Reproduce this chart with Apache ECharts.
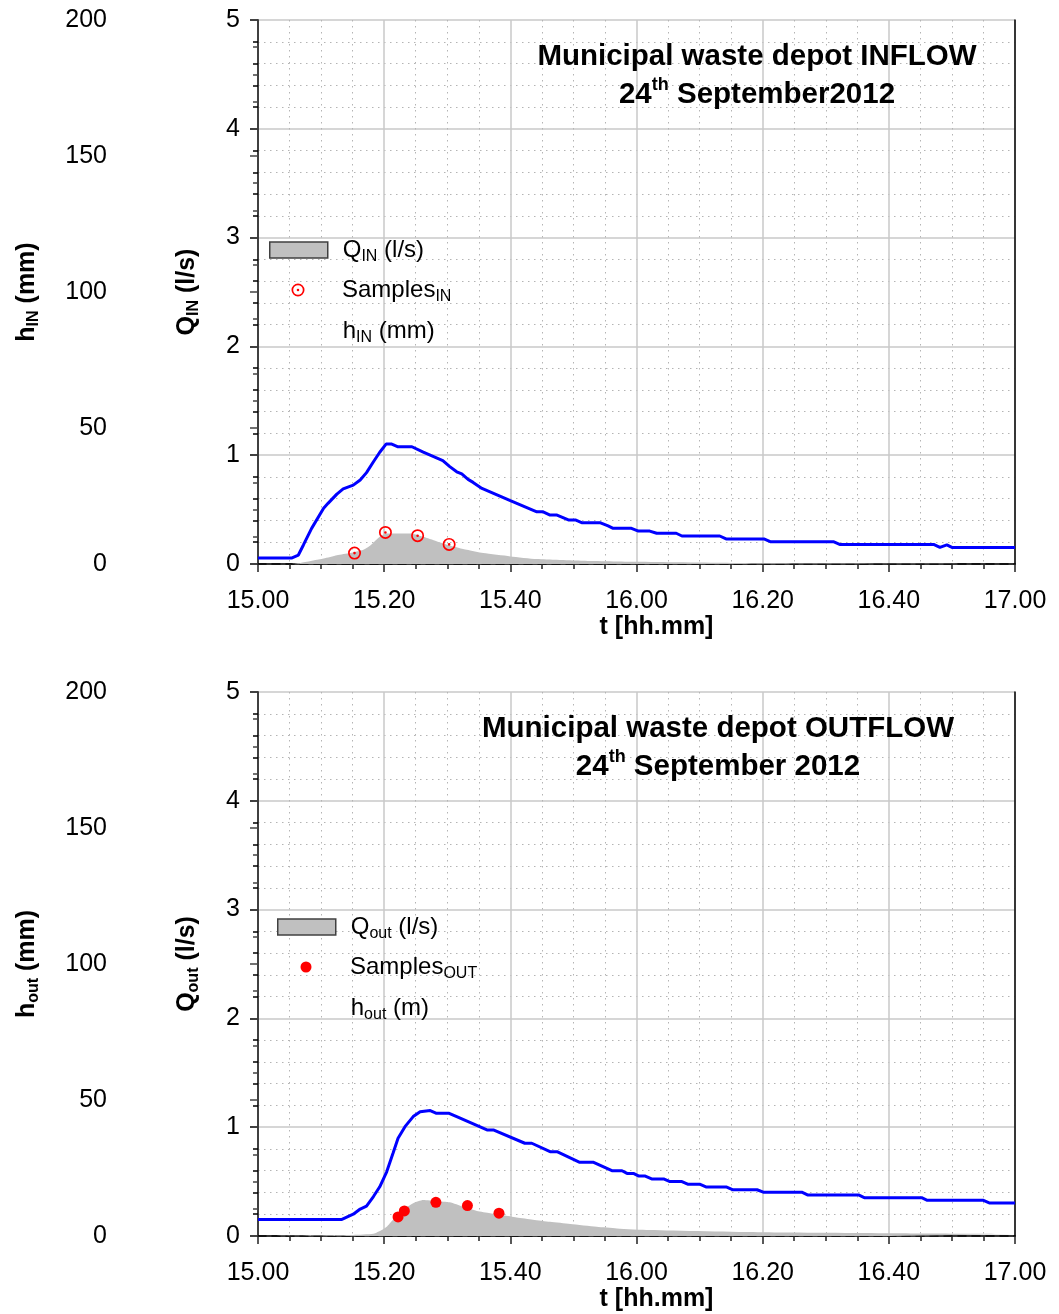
<!DOCTYPE html>
<html><head><meta charset="utf-8">
<script src="https://cdn.jsdelivr.net/npm/echarts@6/dist/echarts.min.js"></script>
<style>html,body{margin:0;padding:0;background:#fff}#c{width:1059px;height:1314px}</style>
</head><body><div id="c"></div>
<script>
// x values: minutes after 15:00
const xTickLabels = ['15.00','15.20','15.40','16.00','16.20','16.40','17.00'];

// INFLOW panel
const hInT = [0,5.3,6.4,7.2,8.5,10.4,11.1,12.5,13.5,15.1,16.2,17.2,18.3,19.3,20.3,21.2,22.2,24.4,26.2,29.3,30.4,31.5,32.3,33.3,34.1,35.5,40.0,44.2,45.2,46.3,47.4,49.2,50.3,51.3,54.2,55.5,56.3,59.2,60.3,62.1,63.2,66.3,67.2,73.2,74.2,80.2,81.2,91.2,92.2,107.1,108.1,109.2,110.0,120];
const hInV = [2.2,2.2,3.3,7.0,13.1,20.5,22.3,25.7,27.6,29.0,30.9,33.6,37.6,41.1,44.1,44.1,43.1,43.1,41.1,38.0,35.8,33.9,33.1,31.1,30.0,27.8,23.3,19.2,19.2,18.0,18.0,16.2,16.2,15.2,15.2,14.0,13.1,13.1,12.1,12.1,11.3,11.3,10.3,10.3,9.2,9.2,8.2,8.2,7.2,7.2,6.1,7.0,6.1,6.1];
const qInT = [0,5,6.7,10.4,12.5,14.6,16.7,17.8,19.3,20.4,22.0,24.1,26.2,28.3,30.4,33.1,35.7,40,44.2,51.5,60,75,90,120];
const qInV = [0,0,0.01,0.05,0.08,0.10,0.13,0.17,0.25,0.28,0.28,0.28,0.25,0.21,0.17,0.13,0.10,0.07,0.046,0.03,0.02,0.01,0.005,0];
const sInT = [15.3,20.2,25.3,30.3];
const sInV = [0.10,0.29,0.26,0.18];

// OUTFLOW panel
const hOutT = [0,13.3,15.1,16.2,17.2,18.3,19.3,20.4,21.4,22.2,23.3,24.6,25.7,27.3,28.3,30.3,31.5,36.3,37.3,42.3,43.4,46.3,47.4,51.0,53.2,56.1,57.7,58.5,59.5,60.3,61.3,62.4,64.3,65.3,67.2,68.2,70.1,71.1,74.3,75.3,79.1,80.1,86.2,87.1,95.2,96.1,105.2,106.1,115.0,116.0,120];
const hOutV = [6.1,6.1,8.0,9.9,11.0,14.5,18.1,23.6,30.4,35.9,40.2,43.9,45.7,46.1,45.1,45.1,43.9,39.0,39.0,34.1,34.1,31.0,31.0,27.1,27.1,24.0,24.0,23.0,23.0,22.1,22.1,21.0,21.0,20.0,20.0,19.0,19.0,18.0,18.0,17.0,17.0,16.1,16.1,15.1,15.1,14.1,14.1,13.1,13.1,12.1,12.1];
const qOutT = [0,15.1,18.3,19.6,20.4,21.4,23.0,24.6,26.2,28.3,30.4,32.5,34.7,36.8,38.9,41.0,43.6,46.3,49.5,53.7,56.9,62.1,80.1,100.2,120];
const qOutV = [0,0.01,0.02,0.055,0.085,0.15,0.24,0.30,0.33,0.32,0.31,0.27,0.23,0.21,0.19,0.17,0.15,0.13,0.11,0.085,0.07,0.055,0.034,0.025,0.018];
const sOutT = [22.2,23.2,28.2,33.2,38.2];
const sOutV = [0.175,0.23,0.31,0.28,0.21];

const FONT = '"Liberation Sans", Arial, sans-serif';
const zip = (a, b) => a.map((v, i) => [v, b[i]]);
const RING = 'path://M10,0A10,10,0,1,1,10,20A10,10,0,1,1,10,0ZM10,2.6A7.4,7.4,0,1,0,10,17.4A7.4,7.4,0,1,0,10,2.6ZM10,8A2,2,0,1,1,10,12A2,2,0,1,1,10,8Z';

const legendNames = {
  'Q_IN': '{a|Q}{s|IN}{n| (l/s)}',
  'Samples_IN': '{a|Samples}{s|IN}',
  'h_IN': '{a|h}{s|IN}{n| (mm)}',
  'Q_out': '{a|Q}{s|out}{n| (l/s)}',
  'Samples_OUT': '{a|Samples}{s|OUT}',
  'h_out': '{a|h}{s|out}{n| (m)}'
};
const legRich = {
  a: {fontSize: 24, fontFamily: FONT, color: '#000', lineHeight: 30, padding: [0, 0, 0, 10]},
  n: {fontSize: 24, fontFamily: FONT, color: '#000', lineHeight: 30},
  s: {fontSize: 16, fontFamily: FONT, color: '#000', verticalAlign: 'bottom'}
};
const nameRich = {
  b: {fontSize: 25, fontWeight: 'bold', fontFamily: FONT, color: '#000', lineHeight: 30},
  s: {fontSize: 16, fontWeight: 'bold', fontFamily: FONT, color: '#000', verticalAlign: 'bottom'}
};
const titleRich = {
  b: {fontSize: 29.5, fontWeight: 'bold', fontFamily: FONT, color: '#000', lineHeight: 38},
  p: {fontSize: 18, fontWeight: 'bold', fontFamily: FONT, color: '#000', verticalAlign: 'top'}
};

const lblStyle = {fontSize: 25, color: '#000', fontFamily: FONT};
const grids = [], xAxes = [], yAxes = [], series = [], legends = [], titles = [];
const LEG_W = 58;

const panels = [
  {top: 20, q: 'Q_IN', s: 'Samples_IN', h: 'h_IN', hT: hInT, hV: hInV, qT: qInT, qV: qInV, sT: sInT, sV: sInV,
   qName: '{b|Q}{s|IN}{b| (l/s)}', hName: '{b|h}{s|IN}{b| (mm)}',
   ring: true, legLeft: 269, legTop: 238, legSTop: 278, sSize: 13,
   title: '{b|Municipal waste depot INFLOW}\n{b|24}{p|th}{b| September2012}', tLeft: 757, tTop: 38},
  {top: 692, q: 'Q_out', s: 'Samples_OUT', h: 'h_out', hT: hOutT, hV: hOutV, qT: qOutT, qV: qOutV, sT: sOutT, sV: sOutV,
   qName: '{b|Q}{s|out}{b| (l/s)}', hName: '{b|h}{s|out}{b| (mm)}',
   ring: false, legLeft: 277, legTop: 915, legSTop: 955, sSize: 11,
   title: '{b|Municipal waste depot OUTFLOW}\n{b|24}{p|th}{b| September 2012}', tLeft: 718, tTop: 710}
];

panels.forEach((p, i) => {
  grids.push({left: 258, top: p.top, width: 757, height: 544, outerBoundsMode: 'none'});
  xAxes.push({
    type: 'value', gridIndex: i, min: 0, max: 120, interval: 20,
    axisLine: {show: true, lineStyle: {color: '#222', width: 1.5, type: [8, 6]}},
    axisTick: {show: true, length: 8, lineStyle: {color: '#222', width: 1.5}},
    minorTick: {show: true, splitNumber: 4, length: 5, lineStyle: {color: '#222', width: 1.5}},
    axisLabel: Object.assign({margin: 25, formatter: v => xTickLabels[Math.round(v / 20)]}, lblStyle),
    splitLine: {show: true, lineStyle: {color: '#c8c8c8', width: 1.5}},
    minorSplitLine: {show: true, lineStyle: {color: '#b4b4b4', width: 1, type: [1.5, 4.5]}},
    name: 't [hh.mm]', nameLocation: 'middle', nameGap: 51,
    nameTextStyle: {fontSize: 25, fontWeight: 'bold', color: '#000', fontFamily: FONT, padding: [0, 0, 0, 40]}
  });
  xAxes.push({
    type: 'value', gridIndex: i, position: 'top', min: 0, max: 1,
    axisLine: {show: true, lineStyle: {color: '#000', width: 1.5}},
    axisTick: {show: false}, axisLabel: {show: false}, splitLine: {show: false}
  });
  yAxes.push({
    type: 'value', gridIndex: i, position: 'left', min: 0, max: 5, interval: 1,
    axisLine: {show: true, lineStyle: {color: '#000', width: 1.5}},
    axisTick: {show: true, length: 8, lineStyle: {color: '#000', width: 1.5}},
    minorTick: {show: true, splitNumber: 5, length: 5, lineStyle: {color: '#000', width: 1.5}},
    axisLabel: Object.assign({margin: 18}, lblStyle),
    splitLine: {show: true, lineStyle: {color: '#c8c8c8', width: 1.5}},
    minorSplitLine: {show: true, lineStyle: {color: '#b4b4b4', width: 1, type: [1.5, 4.5]}},
    name: p.qName, nameLocation: 'middle', nameGap: 56, nameTextStyle: {rich: nameRich}
  });
  yAxes.push({
    type: 'value', gridIndex: i, position: 'left', offset: 130, min: 0, max: 200, interval: 50,
    axisLine: {show: true, lineStyle: {color: '#444', width: 1.5}},
    axisTick: {show: true, length: 8, lineStyle: {color: '#444', width: 1.5}},
    minorTick: {show: true, splitNumber: 5, length: 5, lineStyle: {color: '#444', width: 1.5}},
    axisLabel: Object.assign({margin: 21}, lblStyle),
    splitLine: {show: false}, minorSplitLine: {show: false},
    name: p.hName, nameLocation: 'middle', nameGap: 86, nameTextStyle: {rich: nameRich}
  });
  yAxes.push({
    type: 'value', gridIndex: i, position: 'right', min: 0, max: 1,
    axisLine: {show: true, lineStyle: {color: '#000', width: 1.5}},
    axisTick: {show: false}, axisLabel: {show: false}, splitLine: {show: false}
  });

  series.push({
    name: p.q, type: 'line', xAxisIndex: 2 * i, yAxisIndex: 3 * i, data: zip(p.qT, p.qV),
    symbol: 'none', smooth: 0.2, lineStyle: {width: 0, opacity: 0},
    areaStyle: {color: '#c0c0c0', opacity: 1}, itemStyle: {color: '#c0c0c0'}, z: 2, silent: true
  });
  series.push({
    name: p.h, type: 'line', xAxisIndex: 2 * i, yAxisIndex: 3 * i + 1, data: zip(p.hT, p.hV),
    symbol: 'none', lineStyle: {color: '#0000ff', width: 3}, itemStyle: {color: '#0000ff'}, z: 3, silent: true
  });
  series.push({
    name: p.s, type: 'scatter', xAxisIndex: 2 * i, yAxisIndex: 3 * i, data: zip(p.sT, p.sV),
    symbol: p.ring ? RING : 'circle', symbolSize: p.sSize,
    itemStyle: {color: '#ff0000', opacity: 1}, z: 4, silent: true
  });

  legends.push({
    orient: 'vertical', left: p.legLeft, top: p.legTop, padding: 0, itemGap: 54,
    itemWidth: LEG_W, itemHeight: 16, selectedMode: false,
    data: [
      {name: p.q, icon: 'rect', itemStyle: {color: '#c0c0c0', borderColor: '#404040', borderWidth: 1.5}},
      {name: p.h, icon: 'none'}
    ],
    formatter: n => legendNames[n], textStyle: {rich: legRich}
  });
  // the centred symbol starts (LEG_W - size)/2 inside the item box; legend aligns its bounding box
  legends.push({
    orient: 'vertical', left: p.legLeft + (LEG_W - p.sSize) / 2, top: p.legSTop, padding: 0,
    itemWidth: LEG_W, itemHeight: p.sSize, selectedMode: false,
    data: [{name: p.s, icon: p.ring ? RING : 'circle', itemStyle: {color: '#ff0000', borderWidth: 0}}],
    formatter: n => legendNames[n], textStyle: {rich: legRich}
  });

  titles.push({
    left: p.tLeft, top: p.tTop, textAlign: 'center', padding: 0,
    text: p.title, textStyle: {rich: titleRich}
  });
});

const chart = echarts.init(document.getElementById('c'), null, {renderer: 'canvas'});
chart.setOption({
  backgroundColor: '#fff',
  animation: false,
  title: titles,
  legend: legends,
  grid: grids,
  xAxis: xAxes,
  yAxis: yAxes,
  series: series
});
</script>
</body></html>
